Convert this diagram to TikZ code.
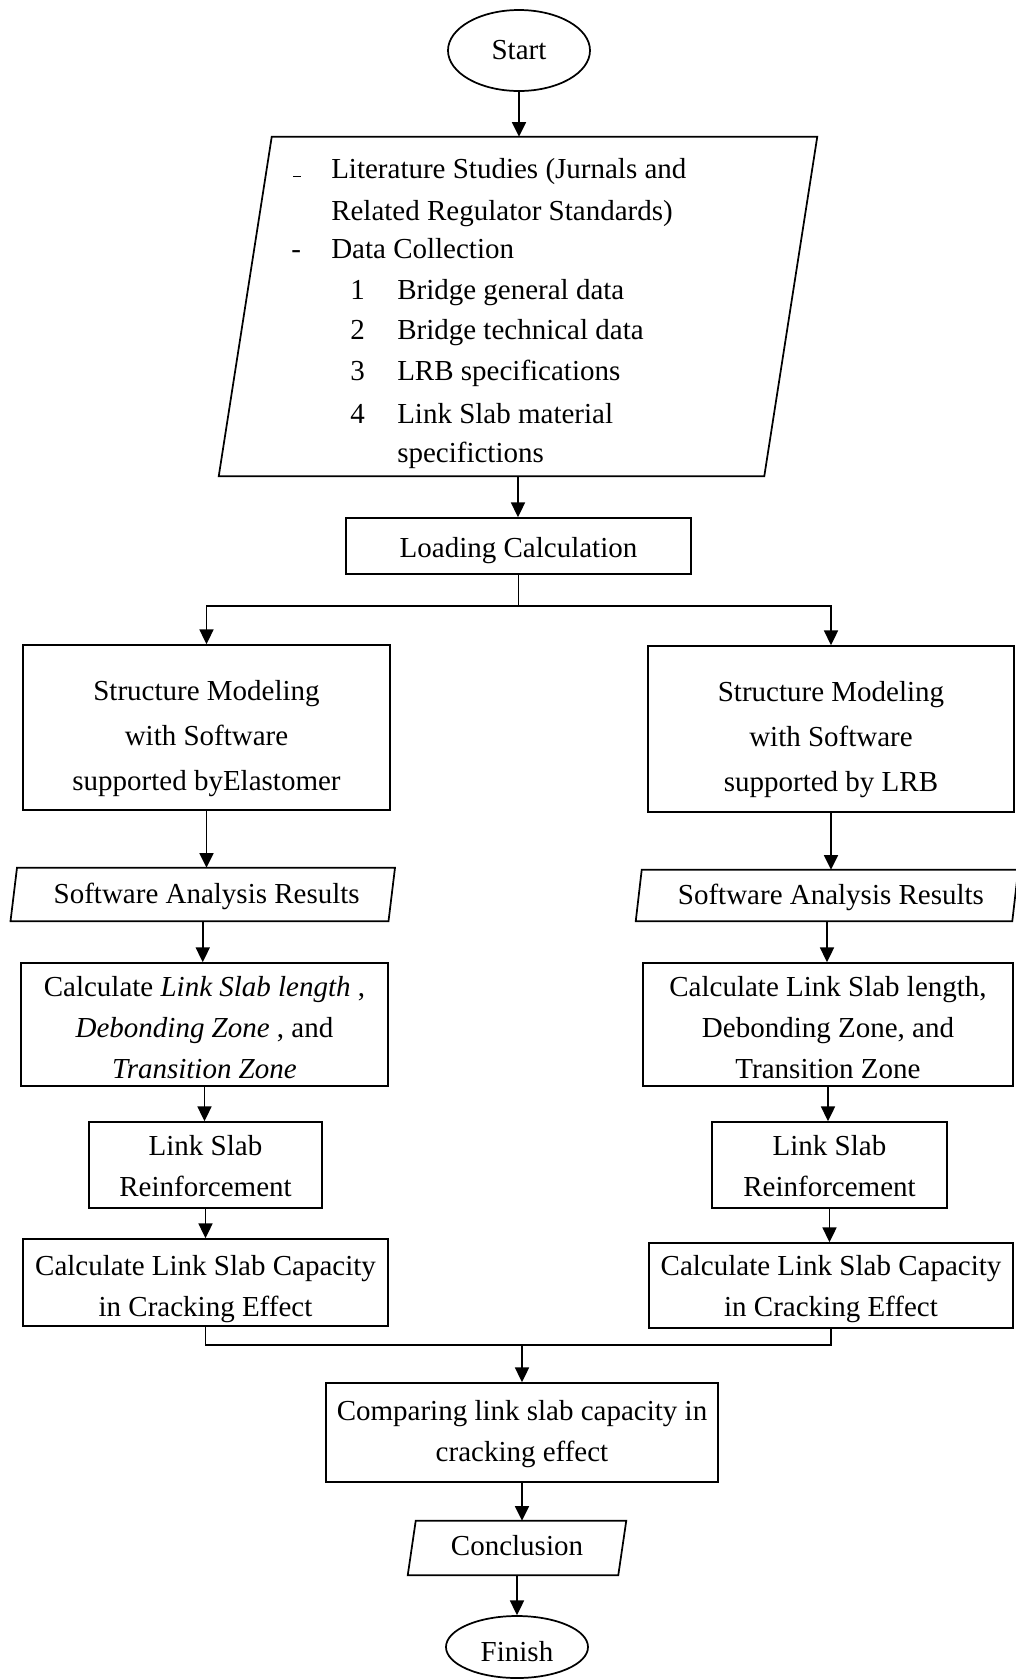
\documentclass[tikz,border=0pt]{standalone}
\usepackage{fontspec}
\setmainfont{Liberation Serif}
\usetikzlibrary{shapes.geometric,arrows.meta}
\newcommand{\fsz}{\fontsize{21.75pt}{31pt}\selectfont}
\newcommand{\fszw}{\fontsize{21.75pt}{34pt}\selectfont}
\newcommand{\tops}[1]{\rule{0pt}{#1}}
\newcommand{\drawpara}[2]{\draw[ln] ([xshift=#2]#1.north west) -- ([xshift=#2]#1.north east) -- ([xshift=-#2]#1.south east) -- ([xshift=-#2]#1.south west) -- cycle;}
\begin{document}
\begin{tikzpicture}[x=0.75pt,y=-0.75pt,
  ln/.style={line width=1.3pt},
  arr/.style={line width=1.3pt,-{Triangle[length=11pt,width=10.5pt]}},
  box/.style={draw,line width=1.3pt,rectangle,inner sep=0pt,align=center,font=\fsz},
  oval/.style={draw,line width=1.3pt,ellipse,inner sep=0pt,font=\fsz},
  para/.style={rectangle,inner sep=0pt,align=center,font=\fsz},
  txt/.style={inner sep=0pt,anchor=base west,font=\fsz}]
\useasboundingbox[fill=white] (0,0) rectangle (1015,1679);
% Start
\node[oval,minimum width=106.5pt,minimum height=60.75pt] (start) at (519,50.5) {Start};
% literature / data parallelogram
\node[para,minimum width=408.75pt,minimum height=254.25pt] (pg) at (518,306.5) {};
\drawpara{pg}{19.875pt}
\node[txt] (d1) at (293,178) {\rule[0.4pt]{6pt}{1.4pt}};
\node[txt] (t1) at (331,178) {Literature Studies (Jurnals and};
\node[txt] (t2) at (331,220) {Related Regulator Standards)};
\node[txt] (d2) at (291,258) {-};
\node[txt] (t3) at (331,258) {Data Collection};
\node[txt] (n1) at (350,299) {1};
\node[txt] (i1) at (397,299) {Bridge general data};
\node[txt] (n2) at (350,339) {2};
\node[txt] (i2) at (397,339) {Bridge technical data};
\node[txt] (n3) at (350,380) {3};
\node[txt] (i3) at (397,380) {LRB specifications};
\node[txt] (n4) at (350,423) {4};
\node[txt] (i4) at (397,423) {Link Slab material};
\node[txt] (i5) at (397,462) {specifictions};
% Loading calculation
\node[box,minimum width=258.75pt,minimum height=42pt] (lc) at (518.5,546) {\tops{22.5pt}Loading Calculation};
\coordinate (split) at (518.5,606);
% structure modeling
\node[box,font=\fszw,minimum width=275.25pt,minimum height=123.75pt] (sl) at (206.5,727.5) {\tops{31.5pt}Structure Modeling\\with Software\\supported byElastomer};
\node[box,font=\fszw,minimum width=274.5pt,minimum height=124.5pt] (sr) at (831,729) {\tops{31pt}Structure Modeling\\with Software\\supported by LRB};
% software analysis results
\node[para,minimum width=283.1pt,minimum height=39.75pt] (sarl) at (202.75,894.5) {\tops{18pt}\hspace*{6pt}Software Analysis Results};
\drawpara{sarl}{2.44pt}
\node[para,minimum width=282pt,minimum height=38.25pt] (sarr) at (827,895.5) {\tops{18pt}\hspace*{6pt}Software Analysis Results};
\drawpara{sarr}{2.25pt}
% calculate lengths
\node[box,minimum width=275.25pt,minimum height=92.25pt] (cl) at (204.5,1024.5) {\tops{19.5pt}Calculate \textit{Link Slab length} ,\\\textit{Debonding Zone} , and\\\textit{Transition Zone}};
\node[box,minimum width=277.5pt,minimum height=92.25pt] (cr) at (828,1024.5) {\tops{19.5pt}Calculate Link Slab length,\\Debonding Zone, and\\Transition Zone};
% link slab reinforcement
\node[box,minimum width=174.75pt,minimum height=64.5pt] (ll) at (205.5,1165) {\tops{17pt}Link Slab\\Reinforcement};
\node[box,minimum width=176.25pt,minimum height=64.5pt] (lr) at (829.5,1165) {\tops{17pt}Link Slab\\Reinforcement};
% capacity
\node[box,minimum width=273.75pt,minimum height=65.25pt] (kl) at (205.5,1282.5) {\tops{24.5pt}Calculate Link Slab Capacity\\in Cracking Effect};
\node[box,minimum width=273pt,minimum height=63.75pt] (kr) at (831,1285.5) {\tops{20pt}Calculate Link Slab Capacity\\in Cracking Effect};
\coordinate (mg) at (522,1345);
% comparing
\node[box,minimum width=294pt,minimum height=74.25pt] (cmp) at (522,1432.5) {\tops{17pt}Comparing link slab capacity in\\cracking effect};
% conclusion
\node[para,minimum width=157.5pt,minimum height=40.5pt] (conc) at (517,1548) {Conclusion\rule[-4.5pt]{0pt}{0pt}};
\drawpara{conc}{3pt}
% finish
\node[oval,minimum width=106.5pt,minimum height=46.5pt] (fin) at (517,1647) {\tops{21.5pt}Finish};
% connectors
\draw[arr] (start.south) -- (start.south |- pg.north);
\draw[arr] (pg.south) -- (pg.south |- lc.north);
\draw[arr] (lc.south) -- (lc.south |- split) -| (sl.north);
\draw[arr] (lc.south |- split) -| (sr.north);
\draw[arr] (sl.south) -- (sl.south |- sarl.north);
\draw[arr] (sr.south) -- (sr.south |- sarr.north);
\draw[arr] (sarl.south) -- (sarl.south |- cl.north);
\draw[arr] (sarr.south) -- (sarr.south |- cr.north);
\draw[arr] (cl.south) -- (cl.south |- ll.north);
\draw[arr] (cr.south) -- (cr.south |- lr.north);
\draw[arr] (ll.south) -- (ll.south |- kl.north);
\draw[arr] (lr.south) -- (lr.south |- kr.north);
\draw[ln] (kl.south) |- (kr.south |- mg) -- (kr.south);
\draw[arr] (mg) -- (cmp.north);
\draw[arr] (cmp.south) -- (cmp.south |- conc.north);
\draw[arr] (conc.south) -- (conc.south |- fin.north);
\end{tikzpicture}
\end{document}
